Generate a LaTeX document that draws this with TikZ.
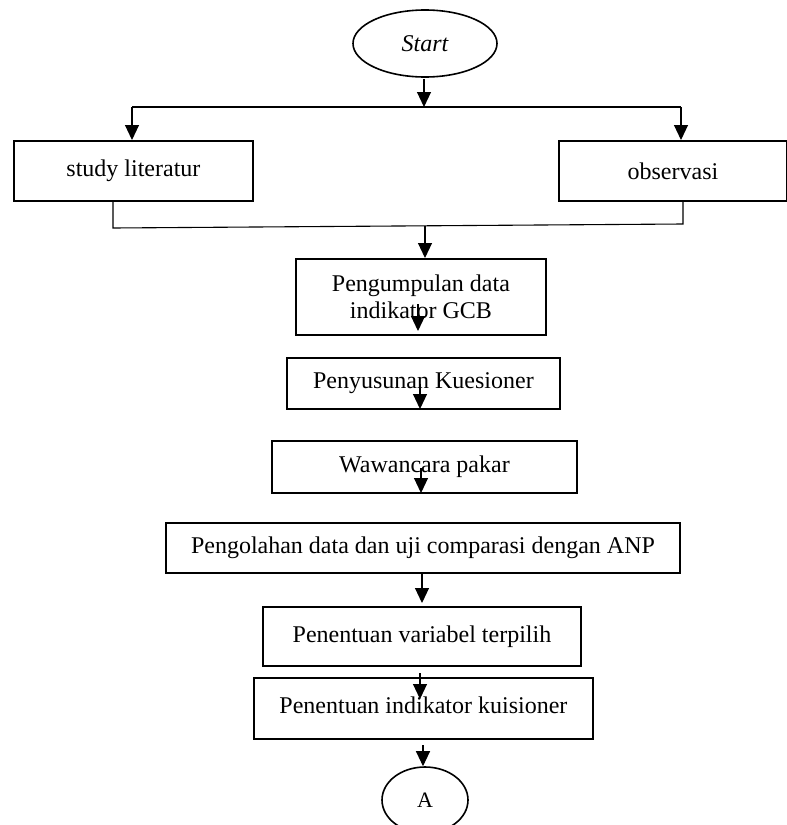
\documentclass[tikz,border=0pt]{standalone}
\usepackage{fontspec}
\setmainfont{Liberation Serif}
\usetikzlibrary{shapes.geometric,arrows.meta}
\begin{document}
\begin{tikzpicture}[x=1pt,y=-1pt,
  box/.style={draw,line width=1.9pt,rectangle,inner sep=0pt,anchor=north west,
    font=\fontsize{24}{27}\selectfont,align=center},
  oval/.style={draw,line width=1.6pt,ellipse,inner sep=0pt,font=\fontsize{24}{27}\selectfont},
  conn/.style={line width=1.1pt},
  arr/.style={line width=1.1pt,-{Triangle[length=15pt,width=14pt]}}]
\useasboundingbox (0,0) rectangle (787,825);
\node[oval,minimum width=144pt,minimum height=67pt] (start) at (425,43.5) {\itshape Start};
\node[box,minimum width=239pt,minimum height=60pt] (lit) at (13,140) {study literatur};
\node[box,minimum width=228pt,minimum height=60pt] (obs) at (558,140) {observasi};
\node[box,minimum width=250pt,minimum height=76pt] (pk) at (295,258) {Pengumpulan data\\indikator GCB};
\node[box,minimum width=273pt,minimum height=51pt] (pnk) at (286,357) {Penyusunan Kuesioner};
\node[box,minimum width=305pt,minimum height=52pt] (wwc) at (271,440) {Wawancara pakar};
\node[box,minimum width=514pt,minimum height=50pt] (pnl) at (165,522) {Pengolahan data dan uji comparasi dengan ANP};
\node[box,minimum width=318pt,minimum height=59pt] (pvt) at (262,606) {Penentuan variabel terpilih};
\node[box,minimum width=339pt,minimum height=61pt] (pik) at (253,677) {\raisebox{6pt}{Penentuan indikator kuisioner}};
\node[oval,minimum width=86pt,minimum height=66pt,font=\fontsize{22}{26}\selectfont] (A) at (425,800) {A};
% split
\coordinate (jm) at (424,107);
\coordinate (jl) at (132,107);
\coordinate (jr) at (681,107);
\draw[arr] (start.south) ++(-1,1) -- (jm);
\draw[conn] (jl) -- (jr);
\draw[arr] (jl) -- (jl |- lit.north);
\draw[arr] (jr) -- (jr |- obs.north);
% merge
\coordinate (bl) at (113,228);
\coordinate (br) at (683,224);
\coordinate (bm) at (425,226);
\draw[conn] (bl |- lit.south) -- (bl) -- (br) -- (br |- obs.south);
\draw[arr] (bm) -- (bm |- pk.north);
% misplaced arrows
\coordinate (a1s) at (418,304); \coordinate (a1e) at (418,331);
\draw[arr] (a1s) -- (a1e);
\coordinate (a2s) at (420,384); \coordinate (a2e) at (420,409);
\draw[arr] (a2s) -- (a2e);
\coordinate (a3s) at (421,468); \coordinate (a3e) at (421,493);
\draw[arr] (a3s) -- (a3e);
\coordinate (a4s) at (422,574); \coordinate (a4e) at (422,603);
\draw[arr] (a4s) -- (a4e);
\coordinate (a5s) at (420,673); \coordinate (a5e) at (420,699);
\draw[arr] (a5s) -- (a5e);
\coordinate (a6s) at (423,745);
\draw[arr] (a6s) -- (a6s |- A.north);
\end{tikzpicture}
\end{document}
